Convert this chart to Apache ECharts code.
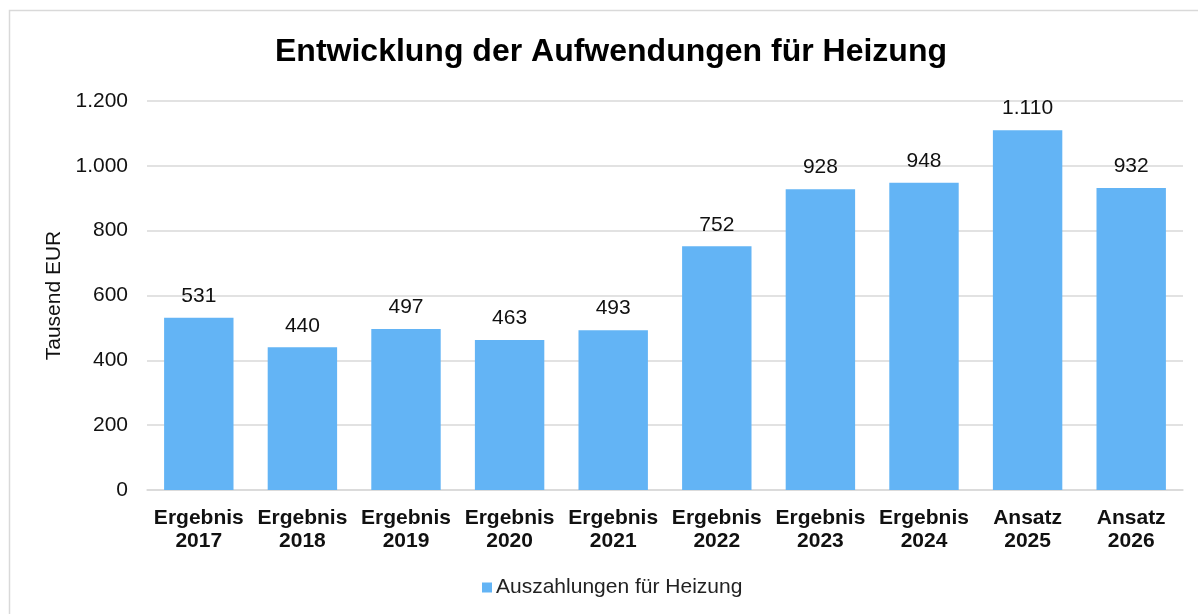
<!DOCTYPE html>
<html><head><meta charset="utf-8">
<script src="https://cdn.jsdelivr.net/npm/echarts@6/dist/echarts.min.js"></script>
<style>html,body{margin:0;padding:0;background:#fff}#c{width:1198px;height:614px}</style>
</head><body><div id="c"></div>
<script>
const categories = ['Ergebnis\n2017','Ergebnis\n2018','Ergebnis\n2019','Ergebnis\n2020','Ergebnis\n2021','Ergebnis\n2022','Ergebnis\n2023','Ergebnis\n2024','Ansatz\n2025','Ansatz\n2026'];
const values = [531, 440, 497, 463, 493, 752, 928, 948, 1110, 932];
const seriesName = 'Auszahlungen für Heizung';
const titleText = 'Entwicklung der Aufwendungen für Heizung';
const axisName = 'Tausend EUR';

function fmt(v){ return String(v).replace(/\B(?=(\d{3})+(?!\d))/g,'.'); }
const font = 'Liberation Sans, Arial, sans-serif';
const chart = echarts.init(document.getElementById('c'));
chart.setOption({
  animation:false,
  backgroundColor:'#fff',
  graphic:[{type:'rect',shape:{x:9.5,y:10.5,width:1200,height:620},style:{fill:'none',stroke:'#d9d9d9',lineWidth:1.5},silent:true,z:-1}],
  title:{text:titleText,left:270,top:31,textStyle:{fontFamily:font,fontSize:32,fontWeight:'bold',color:'#000'}},
  legend:{bottom:11,left:477,itemWidth:10,itemHeight:10,icon:'rect',itemGap:6,textStyle:{fontFamily:font,fontSize:21,color:'#222',padding:[0,0,0,-1]},data:[seriesName]},
  grid:{left:147,right:15,top:101,bottom:124,containLabel:false},
  xAxis:{type:'category',data:categories,axisTick:{show:false},axisLine:{lineStyle:{color:'#d9d9d9',width:1.5}},
    axisLabel:{fontFamily:font,fontSize:21,fontWeight:'bold',color:'#111',lineHeight:23,margin:17,interval:0}},
  yAxis:{type:'value',min:0,max:1200,interval:200,name:axisName,nameLocation:'middle',nameGap:74,nameRotate:90,
    nameTextStyle:{fontFamily:font,fontSize:21,color:'#111'},
    axisLabel:{fontFamily:font,fontSize:21,color:'#111',margin:19,formatter:fmt},
    splitLine:{lineStyle:{color:'#d9d9d9',width:1.5}},axisLine:{show:false},axisTick:{show:false}},
  series:[{name:seriesName,type:'bar',data:values,barWidth:'67%',itemStyle:{color:'#63B4F5'},
    label:{show:true,position:'top',distance:11,fontFamily:font,fontSize:21,color:'#111',formatter:p=>fmt(p.value)}}]
});
</script></body></html>
